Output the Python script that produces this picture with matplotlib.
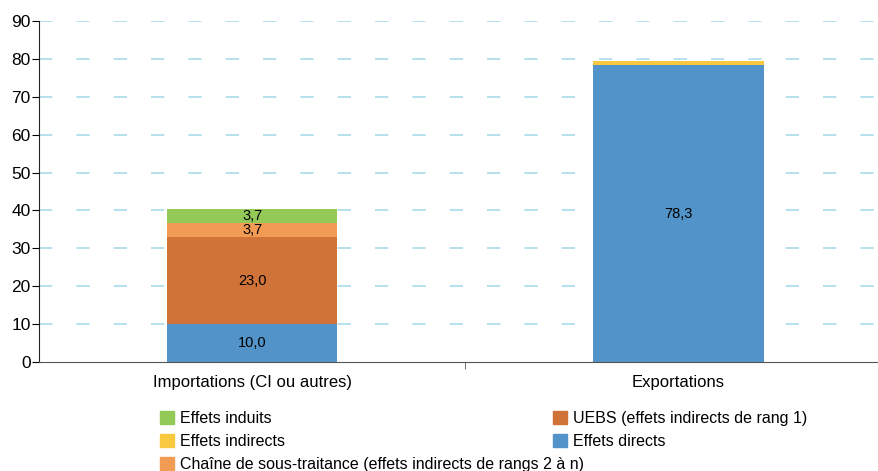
import numpy as np
import matplotlib.pyplot as plt
from matplotlib.patches import Patch

plt.rcParams['font.family'] = ['Liberation Sans', 'DejaVu Sans']

categories = ['Importations (CI ou autres)', 'Exportations']
effets_directs = [10.0, 78.3]
uebs = [23.0, 0.0]
chaine_sous_traitance = [3.7, 0.0]
effets_induits = [3.7, 0.0]
effets_indirects = [0.0, 1.2]

# couleurs des séries
c_directs = '#5294C9'
c_uebs = '#D07339'
c_chaine = '#F29B54'
c_induits = '#92C957'
c_indirects = '#F8C93F'

fig = plt.figure(figsize=(8.79, 4.71), dpi=100)
ax = fig.add_axes([39 / 879, 109 / 471, 1 - 39 / 879, 341 / 471])

x = np.arange(len(categories))
w = 0.4
series = [
    (effets_directs, c_directs, True),
    (uebs, c_uebs, True),
    (chaine_sous_traitance, c_chaine, True),
    (effets_induits, c_induits, True),
    (effets_indirects, c_indirects, False),
]
bottom = np.zeros(len(categories))
for vals, col, labelled in series:
    vals = np.array(vals)
    ax.bar(x, vals, w, bottom=bottom, color=col, zorder=2)
    if labelled:
        for xi, b, v in zip(x, bottom, vals):
            if v > 0:
                ax.text(xi, b + v / 2, f'{v:.1f}'.replace('.', ','),
                        ha='center', va='center', fontsize=10.5, zorder=3)
    bottom += vals

ax.set_xlim(-0.5, 1.47)
ax.set_ylim(0, 90)
ax.set_yticks(np.arange(0, 91, 10))
ax.yaxis.grid(True, color='#A9DCEA', linestyle=(0, (8, 14.4)), linewidth=1.2, zorder=0)
ax.yaxis.get_gridlines()[0].set_visible(False)
ax.set_xticks(x)
ax.set_xticklabels(categories, fontsize=12)
ax.set_xticks([0.5], minor=True)
ax.tick_params(axis='x', which='major', length=0, pad=9)
ax.tick_params(axis='x', which='minor', length=5, color='#555555')
ax.tick_params(axis='y', length=5, labelsize=12.5, pad=1)
for s in ['top', 'right']:
    ax.spines[s].set_visible(False)
ax.spines['left'].set_color('#222222')
ax.spines['bottom'].set_color('#555555')

handles_left = [
    Patch(color=c_induits, label='Effets induits'),
    Patch(color=c_indirects, label='Effets indirects'),
    Patch(color=c_chaine, label='Chaîne de sous-traitance (effets indirects de rangs 2 à n)'),
]
handles_right = [
    Patch(color=c_uebs, label='UEBS (effets indirects de rang 1)'),
    Patch(color=c_directs, label='Effets directs'),
]
leg_kw = dict(loc='upper left', frameon=False, fontsize=11.5, handlelength=0.85,
              handleheight=0.85, handletextpad=0.4, labelspacing=0.5, borderpad=0)
fig.legend(handles=handles_left, bbox_to_anchor=(152 / 879, 1 - 403 / 471), **leg_kw)
fig.legend(handles=handles_right, bbox_to_anchor=(545 / 879, 1 - 403 / 471), **leg_kw)

fig.savefig('out.png', dpi=100)
